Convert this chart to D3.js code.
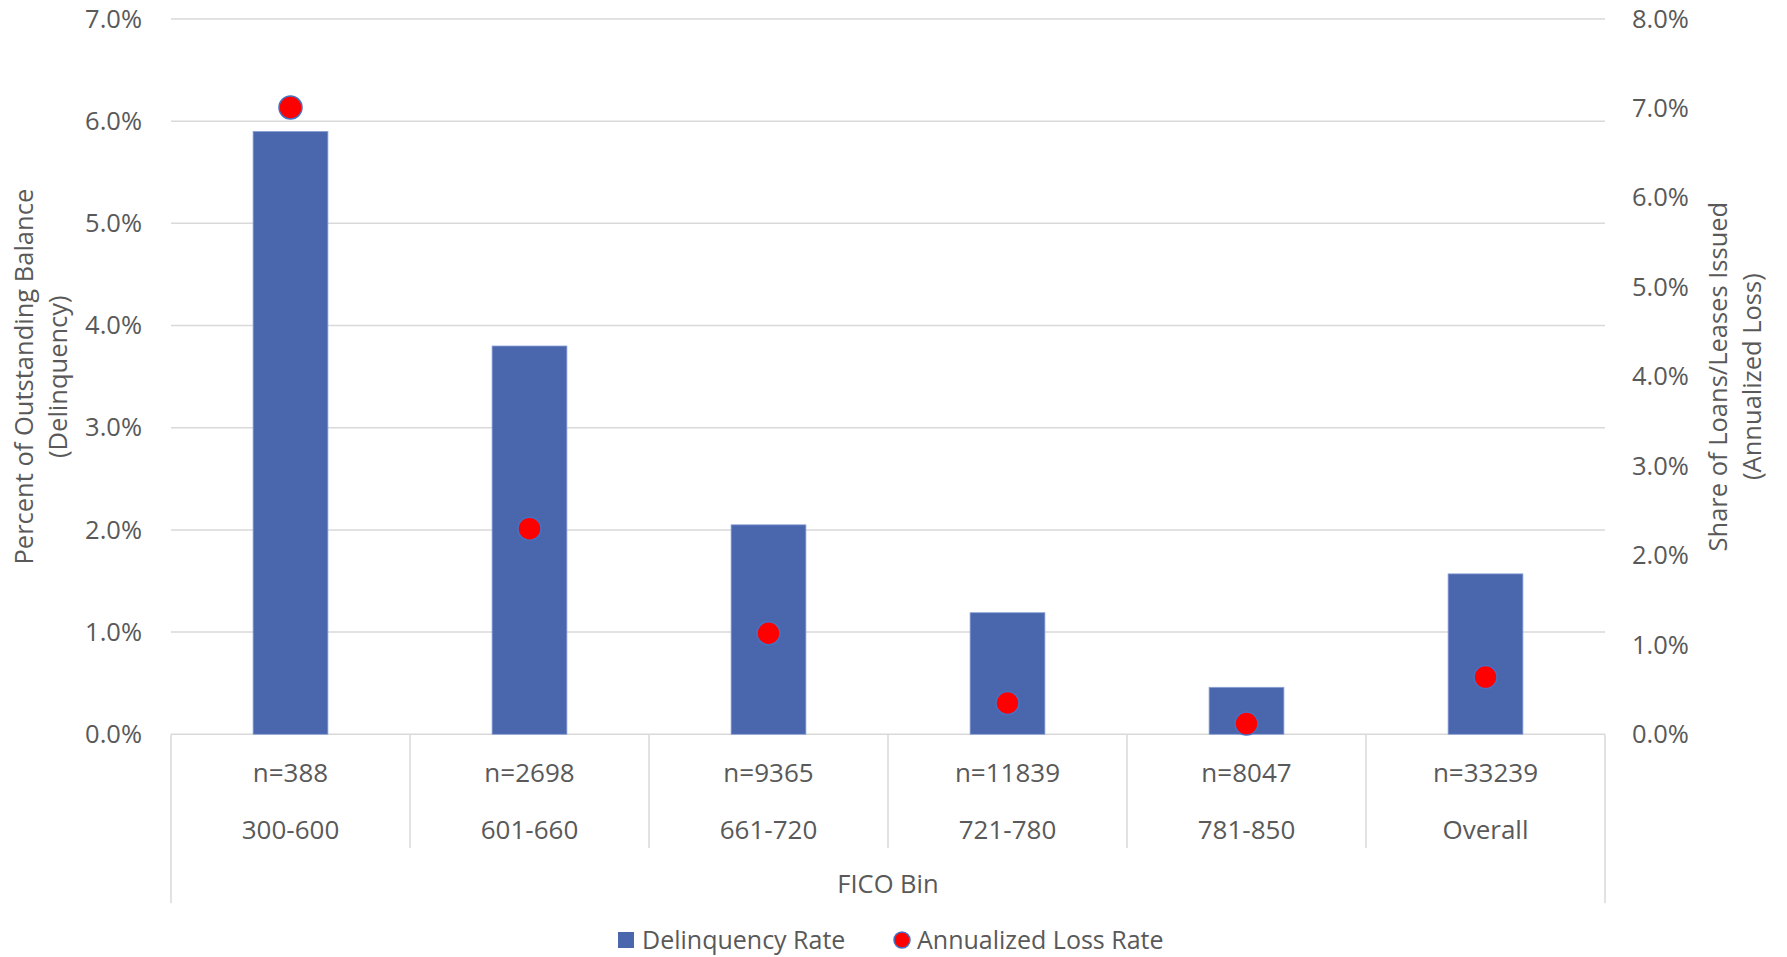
<!DOCTYPE html>
<html>
<head>
<meta charset="utf-8">
<script src="https://cdn.jsdelivr.net/npm/d3@7/dist/d3.min.js"></script>
<style>
  html, body { margin: 0; padding: 0; background: #fff; }
  svg { display: block; }
  text { font-family: "Open Sans", "Noto Sans", sans-serif; fill: #595959; }
</style>
</head>
<body>
<svg id="chart" width="1787" height="957"></svg>
<script>
// FICO bins and their loan counts
const bins = ["300-600", "601-660", "661-720", "721-780", "781-850", "Overall"];
const counts = ["n=388", "n=2698", "n=9365", "n=11839", "n=8047", "n=33239"];
// Delinquency rate (left axis, share of outstanding balance)
const delinquency = [0.059, 0.038, 0.0205, 0.0119, 0.0046, 0.0157];
// Annualized loss rate (right axis, share of loans/leases issued)
const annualLoss = [0.0701, 0.0230, 0.0113, 0.0035, 0.0012, 0.0064];
// Axis tick values
const leftTicks = [0, 0.01, 0.02, 0.03, 0.04, 0.05, 0.06, 0.07];
const rightTicks = [0, 0.01, 0.02, 0.03, 0.04, 0.05, 0.06, 0.07, 0.08];

const svg = d3.select("#chart");
const plot = { left: 171, right: 1605, top: 19, bottom: 734.3 };
const gridColor = "#D9D9D9";
const barColor = "#4A66AC";
const dotColor = "#FF0000";
const fmt = d3.format(".1%");
const fontSize = "25.5px";

const x = d3.scaleBand().domain(bins).range([plot.left, plot.right])
  .paddingInner(0.687).paddingOuter(0.687 / 2);
const step = x.step();
const center = d => x(d) + x.bandwidth() / 2;
const yL = d3.scaleLinear().domain([0, 0.07]).range([plot.bottom, plot.top]);
const yR = d3.scaleLinear().domain([0, 0.08]).range([plot.bottom, plot.top]);

// Horizontal gridlines (left axis)
svg.append("g").selectAll("line").data(leftTicks).join("line")
  .attr("x1", plot.left).attr("x2", plot.right)
  .attr("y1", d => yL(d)).attr("y2", d => yL(d))
  .attr("stroke", gridColor).attr("stroke-width", 1.5);

// Left axis labels
const leftAxis = d3.axisLeft(yL).tickValues(leftTicks).tickFormat(fmt).tickSize(0).tickPadding(0);
svg.append("g").attr("transform", `translate(142,0)`).call(leftAxis)
  .call(g => g.select(".domain").remove())
  .selectAll("text").style("font-size", fontSize).attr("fill", "#595959")
  .style("font-family", "'Open Sans', sans-serif");

// Right axis labels
const rightAxis = d3.axisRight(yR).tickValues(rightTicks).tickFormat(fmt).tickSize(0).tickPadding(0);
svg.append("g").attr("transform", `translate(1632,0)`).call(rightAxis)
  .call(g => g.select(".domain").remove())
  .selectAll("text").style("font-size", fontSize).attr("fill", "#595959")
  .style("font-family", "'Open Sans', sans-serif");

// Category axis frame: outer verticals and dividers between bins
const boundaries = d3.range(bins.length + 1).map(i => plot.left + i * step);
svg.append("g").selectAll("line").data(boundaries).join("line")
  .attr("x1", d => d).attr("x2", d => d)
  .attr("y1", plot.bottom)
  .attr("y2", (d, i) => (i === 0 || i === bins.length) ? 903 : 848)
  .attr("stroke", gridColor).attr("stroke-width", 1.5);

// Delinquency bars
svg.append("g").selectAll("rect").data(bins).join("rect")
  .attr("x", d => x(d))
  .attr("width", x.bandwidth())
  .attr("y", (d, i) => yL(delinquency[i]))
  .attr("height", (d, i) => yL(0) - yL(delinquency[i]))
  .attr("fill", barColor)
  .attr("stroke", "#8CA3D6").attr("stroke-width", 0.8);

// Annualized loss markers
svg.append("g").selectAll("circle").data(bins).join("circle")
  .attr("cx", d => center(d))
  .attr("cy", (d, i) => yR(annualLoss[i]))
  .attr("r", 11.5)
  .attr("fill", dotColor)
  .attr("stroke", "#4472C4").attr("stroke-width", 1.5);

// Category labels: counts, then bin names
svg.append("g").selectAll("text").data(counts).join("text")
  .attr("x", (d, i) => center(bins[i])).attr("y", 773)
  .attr("text-anchor", "middle").attr("dy", "0.35em")
  .style("font-size", "26px").text(d => d);
svg.append("g").selectAll("text").data(bins).join("text")
  .attr("x", d => center(d)).attr("y", 830)
  .attr("text-anchor", "middle").attr("dy", "0.35em")
  .style("font-size", "26px").text(d => d);

// Axis titles
svg.append("text").attr("x", (plot.left + plot.right) / 2).attr("y", 884)
  .attr("text-anchor", "middle").attr("dy", "0.35em")
  .style("font-size", fontSize).text("FICO Bin");

const midY = (plot.top + plot.bottom) / 2;
const leftTitle = svg.append("text").attr("text-anchor", "middle")
  .attr("transform", `translate(24,${midY}) rotate(-90)`)
  .style("font-size", fontSize);
leftTitle.append("tspan").attr("x", 0).attr("dy", "0.35em").text("Percent of Outstanding Balance");
leftTitle.append("tspan").attr("x", 0).attr("dy", "1.33em").text("(Delinquency)");

const rightTitle = svg.append("text").attr("text-anchor", "middle")
  .attr("transform", `translate(1718,${midY}) rotate(-90)`)
  .style("font-size", fontSize);
rightTitle.append("tspan").attr("x", 0).attr("dy", "0.35em").text("Share of Loans/Leases Issued");
rightTitle.append("tspan").attr("x", 0).attr("dy", "1.33em").text("(Annualized Loss)");

// Legend
const legend = svg.append("g").attr("transform", "translate(0,940)");
legend.append("rect").attr("x", 618).attr("y", -8).attr("width", 16).attr("height", 16).attr("fill", barColor);
legend.append("text").attr("x", 642).attr("y", 0).attr("dy", "0.35em")
  .style("font-size", "25px").text("Delinquency Rate");
legend.append("circle").attr("cx", 902).attr("cy", 0).attr("r", 8)
  .attr("fill", dotColor).attr("stroke", "#4472C4").attr("stroke-width", 1.5);
legend.append("text").attr("x", 917).attr("y", 0).attr("dy", "0.35em")
  .style("font-size", "25px").text("Annualized Loss Rate");
</script>
</body>
</html>
